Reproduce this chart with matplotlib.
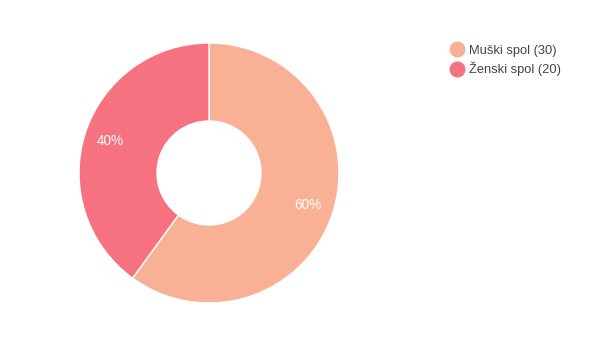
import matplotlib.pyplot as plt
from matplotlib.lines import Line2D

plt.rcParams["font.family"] = ["Liberation Sans", "DejaVu Sans"]

labels = ["Muški spol", "Ženski spol"]
counts = [30, 20]
colors = ["#F8B195", "#F67280"]

W, H = 605, 354
fig = plt.figure(figsize=(W / 100, H / 100), dpi=100)

# donut: center (209, 173) px, radius 130 px
cx, cy, r = 209, 173, 130
ax = fig.add_axes([(cx - r) / W, (H - cy - r) / H, 2 * r / W, 2 * r / H])
wedges, texts, autotexts = ax.pie(
    counts,
    colors=colors,
    startangle=90,
    counterclock=False,
    autopct="%d%%",
    pctdistance=0.8,
    wedgeprops=dict(width=0.6, edgecolor="white", linewidth=1),
    textprops=dict(color="white", fontsize=9.8),
)
ax.set_xlim(-1, 1)
ax.set_ylim(-1, 1)
ax.set_aspect("equal")
ax.axis("off")

handles = [
    Line2D([], [], marker="o", linestyle="none", markersize=10.5,
           markerfacecolor=c, markeredgecolor=c)
    for c in colors
]
legend_labels = [f"{l} ({n})" for l, n in zip(labels, counts)]
fig.legend(
    handles, legend_labels,
    loc="upper left",
    bbox_to_anchor=(438 / W, 1 - 33 / H),
    frameon=False,
    fontsize=9.3,
    handlelength=1.2,
    handletextpad=0.3,
    labelspacing=0.4,
    labelcolor="#444444",
)

fig.savefig("out.png", dpi=100)
